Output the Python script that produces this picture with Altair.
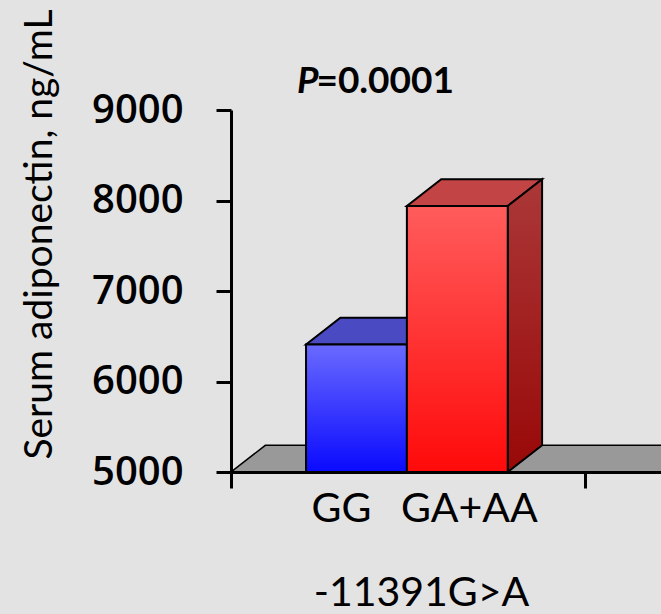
import altair as alt
import pandas as pd

# ---------------- data ----------------
categories = ["GG", "GA+AA"]
values = [6410, 7940]
y_ticks = [5000, 6000, 7000, 8000, 9000]
y_title = "Serum adiponectin, ng/mL"
x_title = "-11391G>A"
p_italic = "P"
p_rest = "=0.0001"

# ---------------- layout / style ----------------
Y_MIN, Y_MAX = 5000, 9000
X_MAX = 1.215          # one category spans 0..1
BAR_START = 0.212
BAR_W = 0.285
DEPTH_X = 0.097
DEPTH_Y = 295
FLOOR_END = 1.5
P_X, P_Y = 0.247, 9190
LABEL_DX = [-15, 12]

front_colors = [("#6a6aff", "#0a0aff"), ("#ff5c5c", "#ff0a0a")]
top_colors = ["#4a4ac2", "#c24444"]
side_colors = [("#3838b0", "#00009a"), ("#ab3838", "#990808")]

BG = "#e3e3e3"
CAL = "Lato"

x_scale = alt.Scale(domain=[0, X_MAX], nice=False, zero=False)
y_scale = alt.Scale(domain=[Y_MIN, Y_MAX], nice=False, zero=False)


def grad(c1, c2):
    return alt.Gradient(
        gradient="linear",
        stops=[alt.GradientStop(color=c1, offset=0), alt.GradientStop(color=c2, offset=1)],
        x1=0, x2=0, y1=0, y2=1,
    )


x_axis = alt.Axis(
    values=[0, 1], labels=False, grid=False,
    tickSize=16, tickWidth=3, tickColor="black",
    domainColor="black", domainWidth=3,
    title=x_title, titleFont=CAL, titleFontSize=41, titleFontWeight="normal",
    titleColor="black", titleX=190, titleY=133, titleAlign="center",
    titleBaseline="alphabetic", zindex=1,
)
y_axis = alt.Axis(
    values=y_ticks, format="d", grid=False,
    tickSize=15, tickWidth=3, tickColor="black",
    domainColor="black", domainWidth=3,
    labelFont="Open Sans", labelFontSize=40, labelFontWeight=600,
    labelColor="black", labelPadding=33,
    title=y_title, titleFont=CAL, titleFontSize=39, titleFontWeight="normal",
    titleColor="black", titleX=-180, titleY=124, titleAlign="center",
    titleBaseline="alphabetic", zindex=1,
)


def X(field):
    return alt.X(field, scale=x_scale, axis=x_axis)


def Y(field):
    return alt.Y(field, scale=y_scale, axis=y_axis)


# floor
floor_df = pd.DataFrame({
    "x": [0, DEPTH_X, FLOOR_END],
    "lo": [Y_MIN, Y_MIN, Y_MIN],
    "hi": [Y_MIN, Y_MIN + DEPTH_Y, Y_MIN + DEPTH_Y],
})
layers = [
    alt.Chart(floor_df).mark_area(color="#999999", stroke="black", strokeWidth=1.5, clip=True).encode(
        x=X("x:Q"), y=Y("lo:Q"), y2="hi:Q",
    )
]

for i, (cat, v) in enumerate(zip(categories, values)):
    x0 = BAR_START + i * BAR_W
    x1 = x0 + BAR_W
    top_df = pd.DataFrame({
        "x": [x0, x0 + DEPTH_X, x1, x1 + DEPTH_X],
        "lo": [v, v, v, v + DEPTH_Y],
        "hi": [v, v + DEPTH_Y, v + DEPTH_Y, v + DEPTH_Y],
    })
    side_df = pd.DataFrame({
        "x": [x1, x1 + DEPTH_X],
        "lo": [Y_MIN, Y_MIN + DEPTH_Y],
        "hi": [v, v + DEPTH_Y],
    })
    front_df = pd.DataFrame({"x": [x0], "x1": [x1], "lo": [Y_MIN], "hi": [v]})
    lab_df = pd.DataFrame({"x": [(x0 + x1) / 2], "lo": [Y_MIN], "t": [cat]})

    layers.append(
        alt.Chart(top_df).mark_area(color=top_colors[i], stroke="black", strokeWidth=2).encode(
            x=X("x:Q"), y=Y("lo:Q"), y2="hi:Q",
        )
    )
    layers.append(
        alt.Chart(side_df).mark_area(color=grad(*side_colors[i]), stroke="black", strokeWidth=2).encode(
            x=X("x:Q"), y=Y("lo:Q"), y2="hi:Q",
        )
    )
    layers.append(
        alt.Chart(front_df).mark_bar(color=grad(*front_colors[i]), stroke="black", strokeWidth=2).encode(
            x=X("x:Q"), x2="x1:Q", y=Y("lo:Q"), y2="hi:Q",
        )
    )
    layers.append(
        alt.Chart(lab_df).mark_text(
            font=CAL, fontSize=41, color="black", baseline="alphabetic", align="center",
            dy=50, dx=LABEL_DX[i],
        ).encode(x=X("x:Q"), y=Y("lo:Q"), text="t:N")
    )

p_df = pd.DataFrame({"x": [P_X], "lo": [P_Y], "a": [p_italic], "b": [p_rest]})
layers.append(
    alt.Chart(p_df).mark_text(
        font=CAL, fontSize=37, fontWeight="bold", fontStyle="italic", color="black",
        align="right", baseline="alphabetic",
    ).encode(x=X("x:Q"), y=Y("lo:Q"), text="a:N")
)
layers.append(
    alt.Chart(p_df).mark_text(
        font=CAL, fontSize=37, fontWeight="bold", color="black",
        align="left", baseline="alphabetic", dx=-2,
    ).encode(x=X("x:Q"), y=Y("lo:Q"), text="b:N")
)

chart = alt.layer(*layers).properties(
    width=430, height=362,
    autosize=alt.AutoSizeParams(type="none"),
    padding={"left": 231, "top": 110, "right": 0, "bottom": 142},
    background=BG,
).configure_view(stroke=None)

chart.save("out.html", embed_options={"renderer": "svg", "actions": False})
